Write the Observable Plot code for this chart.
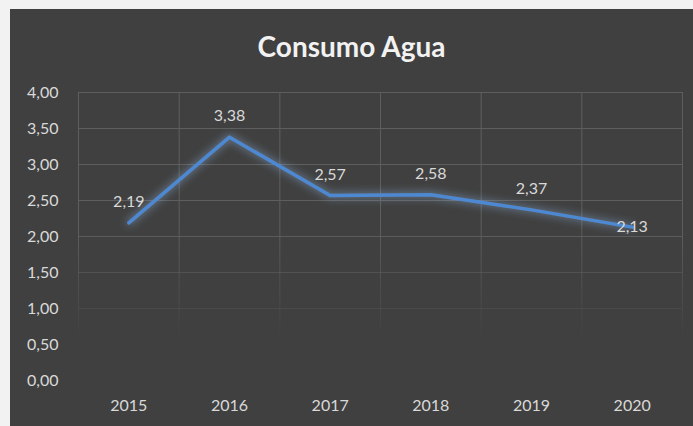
<!DOCTYPE html>
<html><head><meta charset="utf-8">
<script src="https://cdn.jsdelivr.net/npm/d3@7"></script>
<script src="https://cdn.jsdelivr.net/npm/@observablehq/plot@0.6"></script>
<style>
html,body{margin:0;padding:0;background:#f2f2f2;}
#card{position:absolute;left:10px;top:9px;width:683px;height:417px;background:#404040;font-family:Lato,"Open Sans",sans-serif;}
#title{height:68px;line-height:74px;text-align:center;color:#f2f2f2;font-weight:bold;font-size:28px;}
#chart svg{display:block;}
</style></head>
<body><div id="card"><div id="title">Consumo Agua</div><div id="chart"></div></div>
<script>
const years = [2015, 2016, 2017, 2018, 2019, 2020];
const consumo = [2.19, 3.38, 2.57, 2.58, 2.37, 2.13];
const yTicks = [0, 0.5, 1, 1.5, 2, 2.5, 3, 3.5, 4];

const data = years.map((y, i) => ({year: y, value: consumo[i]}));
const edges = [years[0] - 0.5, ...years.map(y => y + 0.5)];
const fmt = v => d3.format(".2f")(v).replace(".", ",");
const last = years[years.length - 1];

const defs = () => {
  const ns = "http://www.w3.org/2000/svg";
  const d = document.createElementNS(ns, "defs");
  const g = document.createElementNS(ns, "linearGradient");
  g.setAttribute("id", "gridfade");
  g.setAttribute("gradientUnits", "userSpaceOnUse");
  g.setAttribute("x1", 0); g.setAttribute("x2", 0);
  g.setAttribute("y1", 150); g.setAttribute("y2", 262);
  [[0, 1], [1, 0]].forEach(([o, a]) => {
    const s = document.createElementNS(ns, "stop");
    s.setAttribute("offset", o);
    s.setAttribute("stop-color", "#5e5e5e");
    s.setAttribute("stop-opacity", a);
    g.appendChild(s);
  });
  d.appendChild(g);
  const f = document.createElementNS(ns, "filter");
  f.setAttribute("id", "glow");
  f.setAttribute("x", "-20%"); f.setAttribute("y", "-50%");
  f.setAttribute("width", "140%"); f.setAttribute("height", "200%");
  f.innerHTML = '<feGaussianBlur in="SourceGraphic" stdDeviation="4" result="b"/>' +
    '<feColorMatrix in="b" type="matrix" values="0 0 0 0 0.30  0 0 0 0 0.52  0 0 0 0 0.85  0 0 0 0.75 0" result="c"/>' +
    '<feMerge><feMergeNode in="c"/><feMergeNode in="SourceGraphic"/></feMerge>';
  d.appendChild(f);
  return d;
};

const plot = Plot.plot({
  width: 683,
  height: 349,
  marginLeft: 68,
  marginRight: 11,
  marginTop: 15,
  marginBottom: 46,
  style: {background: "transparent", color: "#d9d9d9", fontFamily: "Lato, sans-serif", fontSize: "16px"},
  x: {domain: [edges[0], edges[edges.length - 1]], ticks: years, tickFormat: d => String(d), label: null, tickSize: 0, tickPadding: 19},
  y: {domain: [0, 4], ticks: yTicks, tickFormat: fmt, label: null, tickSize: 0, tickPadding: 20},
  marks: [
    defs,
    Plot.ruleY(yTicks.filter(t => t > 0), {stroke: "url(#gridfade)", strokeWidth: 1}),
    Plot.ruleX(edges, {y1: 0, y2: 4, stroke: "url(#gridfade)", strokeWidth: 1}),
    Plot.line(data, {x: "year", y: "value", stroke: "#4e88d2", strokeWidth: 3.5}),
    Plot.text(data, {x: "year", y: "value", text: d => fmt(d.value), fill: "#d9d9d9", fontSize: 16, filter: d => d.year !== last, dy: -21}),
    Plot.text(data, {x: "year", y: "value", text: d => fmt(d.value), fill: "#d9d9d9", fontSize: 16, filter: d => d.year === last})
  ]
});
d3.select(plot).selectAll('g[aria-label="line"]').attr("filter", "url(#glow)");
document.getElementById("chart").appendChild(plot);
</script></body></html>
